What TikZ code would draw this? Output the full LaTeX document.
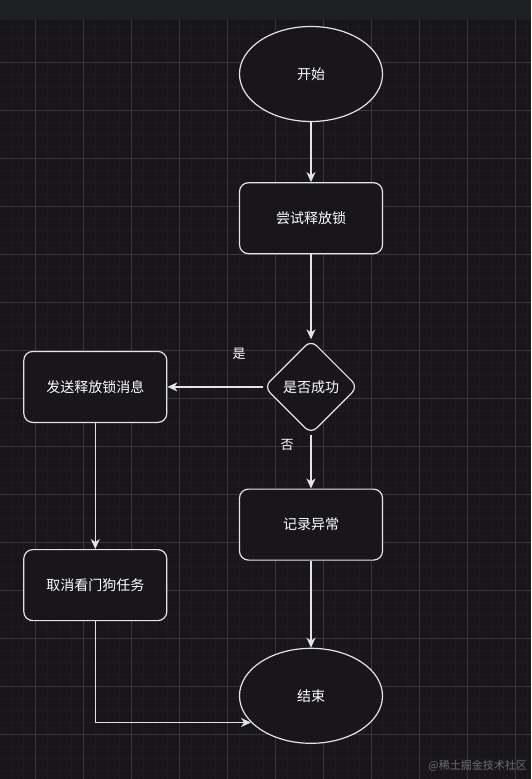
\documentclass[tikz,border=0pt]{standalone}
\usepackage{fontspec}
\usepackage{xcolor}
\usepackage{tikz}
\usetikzlibrary{positioning, arrows.meta, calc, shapes.geometric}
\newfontfamily\cjk{Noto Sans CJK SC}
\definecolor{canvasbg}{HTML}{18161B}
\definecolor{topbar}{HTML}{1F2022}
\definecolor{gridmajor}{HTML}{38363C}
\definecolor{gridminor}{HTML}{1D1B21}
\definecolor{edgeline}{HTML}{E4E4E4}
\definecolor{marktext}{HTML}{6E6E72}
\tikzset{
  stepbox/.style={
    rectangle,
    draw=edgeline,
    fill=canvasbg,
    rounded corners=9pt,
    line width=1.2pt,
    minimum width=143pt,
    minimum height=71pt,
    text=white,
    align=center,
    font=\cjk\fontsize{14pt}{16pt}\selectfont,
    inner sep=4pt
  },
  endpoint/.style={
    ellipse,
    draw=edgeline,
    fill=canvasbg,
    line width=1.2pt,
    minimum width=143pt,
    minimum height=95pt,
    text=white,
    font=\cjk\fontsize{14pt}{16pt}\selectfont
  },
  checkbox/.style={
    diamond,
    aspect=1,
    draw=edgeline,
    fill=canvasbg,
    rounded corners=8pt,
    line width=1.2pt,
    minimum width=94pt,
    minimum height=94pt,
    text=white,
    inner sep=1pt,
    font=\cjk\fontsize{14pt}{16pt}\selectfont
  },
  flowarrow/.style={
    -{Stealth[length=10pt, width=9pt, inset=3pt]},
    draw=edgeline,
    line width=1.2pt
  },
  branchlabel/.style={
    text=white,
    inner sep=1pt,
    font=\cjk\fontsize{13pt}{15pt}\selectfont
  }
}

\begin{document}
\begin{tikzpicture}[x=1pt, y=1pt]
  % canvas and grid
  \useasboundingbox (0,0) rectangle (531,-779);
  \fill[canvasbg] (0,0) rectangle (531,-779);
  \foreach \gx in {11,23,...,527}
    \draw[gridminor, line width=0.6pt] (\gx,-20) -- (\gx,-779);
  \foreach \gy in {26,38,...,778}
    \draw[gridminor, line width=0.6pt] (0,-\gy) -- (531,-\gy);
  \foreach \gx in {35,83,...,515}
    \draw[gridmajor, line width=0.7pt] (\gx,-20) -- (\gx,-779);
  \foreach \gy in {62,110,...,734}
    \draw[gridmajor, line width=0.7pt] (0,-\gy) -- (531,-\gy);
  \fill[topbar] (0,0) rectangle (531,-20);

  \node[endpoint] (start) at (311,-74) {开始};
  \node[stepbox, below=60pt of start] (release) {尝试释放锁};
  \node[checkbox, below=85pt of release] (check) {是否成功};
  \node[stepbox, left=96pt of check] (notify) {发送释放锁消息};
  \node[stepbox, below=54pt of check] (logerr) {记录异常};
  \node[stepbox, below=126pt of notify] (cancel) {取消看门狗任务};
  \node[endpoint, below=87pt of logerr] (finish) {结束};

  \node[branchlabel] (yes) at ($(check)+(-72,33)$) {是};
  \node[branchlabel] (no) at ($(check)+(-24,-58)$) {否};

  \draw[flowarrow] (start) -- (release);
  \draw[flowarrow] (release) -- (check);
  \draw[flowarrow] (check) -- (notify);
  \draw[flowarrow] (check) -- (logerr);
  \draw[flowarrow] (notify) -- (cancel);
  \draw[flowarrow] (logerr) -- (finish);
  \draw[flowarrow] (cancel.south) |- (finish.204.6);

  \node[anchor=east, text=marktext, inner sep=0pt,
    font=\cjk\fontsize{11pt}{13pt}\selectfont] (mark) at (527,-766) {@稀土掘金技术社区};
\end{tikzpicture}
\end{document}
